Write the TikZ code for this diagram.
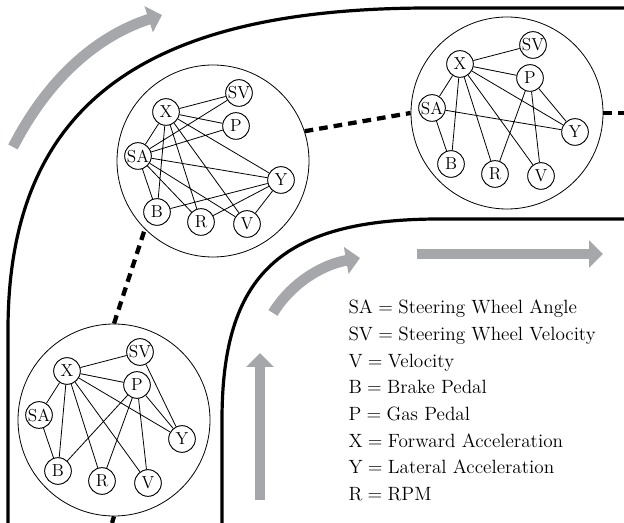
\documentclass[tikz,border=0pt]{standalone}
\usetikzlibrary{arrows.meta}
\definecolor{flowgray}{RGB}{166,167,171}
\tikzset{every picture/.style={line width=0.75pt}}

\begin{document}
\begin{tikzpicture}[x=0.75pt,y=0.75pt,yscale=-1,xscale=1,
  road/.style={line width=2.4pt},
  track/.style={line width=3.2pt,dash pattern=on 6.5pt off 4.5pt},
  snapshot/.style={circle,draw,line width=0.6pt,minimum size=144pt,inner sep=0pt},
  var/.style={circle,draw,line width=0.7pt,minimum size=20pt,inner sep=0pt,font=\fontsize{13}{15}\selectfont},
  link/.style={line width=0.6pt},
  flow/.style={draw=flowgray,line width=8pt,-{Triangle[width=20pt,length=10.5pt]}}]
\useasboundingbox (0,0) rectangle (624,523);
\clip (0,0) rectangle (624,523);

%Road: outer edge
\draw [road]   (8,523) -- (8,330) .. controls (8,100) and (150,8) .. (430,8) -- (624,8) ;
%Road: inner edge
\draw [road]   (222,523) -- (222,420) .. controls (222,275) and (280,219) .. (440,219) -- (624,219) ;

%Driving direction
\draw [flow]   (13,147) .. controls (50,75) and (100,35) .. (162,15) ;
\draw [flow]   (273,313) .. controls (290,285) and (320,265) .. (360,258) ;
\draw [flow]   (260,500) -- (260,353) ;
\draw [flow]   (417,254) -- (603,254) ;

%Snapshots along the road
\node [snapshot] (g1) at (114,420) {};
\node [snapshot] (g2) at (213,161) {};
\node [snapshot] (g3) at (507,113) {};
\coordinate (exitB) at (112,523);
\coordinate (exitR) at (624,113);

\draw [track]  (g1.south) -- (exitB) ;
\draw [track]  (g1.north) -- (g2.-135) ;
\draw [track]  (g2.18) -- (g3.west) ;
\draw [track]  (g3.east) -- (exitR) ;

%Graph 1
\begin{scope}[shift={(114,420)}]
\node [var] (g1SV) at (26,-68) {SV};
\node [var] (g1X) at (-47,-49) {X};
\node [var] (g1P) at (23,-35) {P};
\node [var] (g1SA) at (-75,-5) {SA};
\node [var] (g1Y) at (68,19) {Y};
\node [var] (g1B) at (-56,51) {B};
\node [var] (g1R) at (-12,61) {R};
\node [var] (g1V) at (34,63) {V};
\end{scope}
\draw [link]   (g1X) -- (g1SV) (g1X) -- (g1P) (g1X) -- (g1SA) (g1X) -- (g1B)
               (g1X) -- (g1R) (g1X) -- (g1V) (g1X) -- (g1Y) (g1SA) -- (g1B)
               (g1P) -- (g1B) (g1P) -- (g1R) (g1P) -- (g1V) (g1P) -- (g1Y)
               (g1SV) -- (g1Y) ;

%Graph 2
\begin{scope}[shift={(213,161)}]
\node [var] (g2SV) at (26,-68) {SV};
\node [var] (g2X) at (-47,-49) {X};
\node [var] (g2P) at (23,-35) {P};
\node [var] (g2SA) at (-75,-5) {SA};
\node [var] (g2Y) at (68,19) {Y};
\node [var] (g2B) at (-56,51) {B};
\node [var] (g2R) at (-12,61) {R};
\node [var] (g2V) at (34,63) {V};
\end{scope}
\draw [link]   (g2X) -- (g2SV) (g2X) -- (g2P) (g2X) -- (g2SA) (g2X) -- (g2B)
               (g2X) -- (g2R) (g2X) -- (g2V) (g2X) -- (g2Y) (g2SA) -- (g2SV)
               (g2SA) -- (g2P) (g2SA) -- (g2Y) (g2SA) -- (g2B) (g2SA) -- (g2R)
               (g2SA) -- (g2V) (g2B) -- (g2Y) (g2R) -- (g2Y) (g2V) -- (g2Y) ;

%Graph 3
\begin{scope}[shift={(507,113)}]
\node [var] (g3SV) at (26,-68) {SV};
\node [var] (g3X) at (-47,-49) {X};
\node [var] (g3P) at (23,-35) {P};
\node [var] (g3SA) at (-75,-5) {SA};
\node [var] (g3Y) at (68,19) {Y};
\node [var] (g3B) at (-56,51) {B};
\node [var] (g3R) at (-12,61) {R};
\node [var] (g3V) at (34,63) {V};
\end{scope}
\draw [link]   (g3X) -- (g3SV) (g3X) -- (g3P) (g3X) -- (g3Y) (g3X) -- (g3SA)
               (g3X) -- (g3B) (g3X) -- (g3R) (g3X) -- (g3V) (g3SA) -- (g3B)
               (g3SA) -- (g3Y) (g3P) -- (g3R) (g3P) -- (g3V) (g3P) -- (g3Y) ;

% Text Node
\node [anchor=north west,inner sep=0pt,align=left,font=\fontsize{14.4}{20}\selectfont] (legend) at (348,299.5)
  {SA${}={}$Steering Wheel Angle\\
   SV${}={}$Steering Wheel Velocity\\
   V${}={}$Velocity\\
   B${}={}$Brake Pedal\\
   P${}={}$Gas Pedal\\
   X${}={}$Forward Acceleration\\
   Y${}={}$Lateral Acceleration\\
   R${}={}$RPM};

\end{tikzpicture}
\end{document}
